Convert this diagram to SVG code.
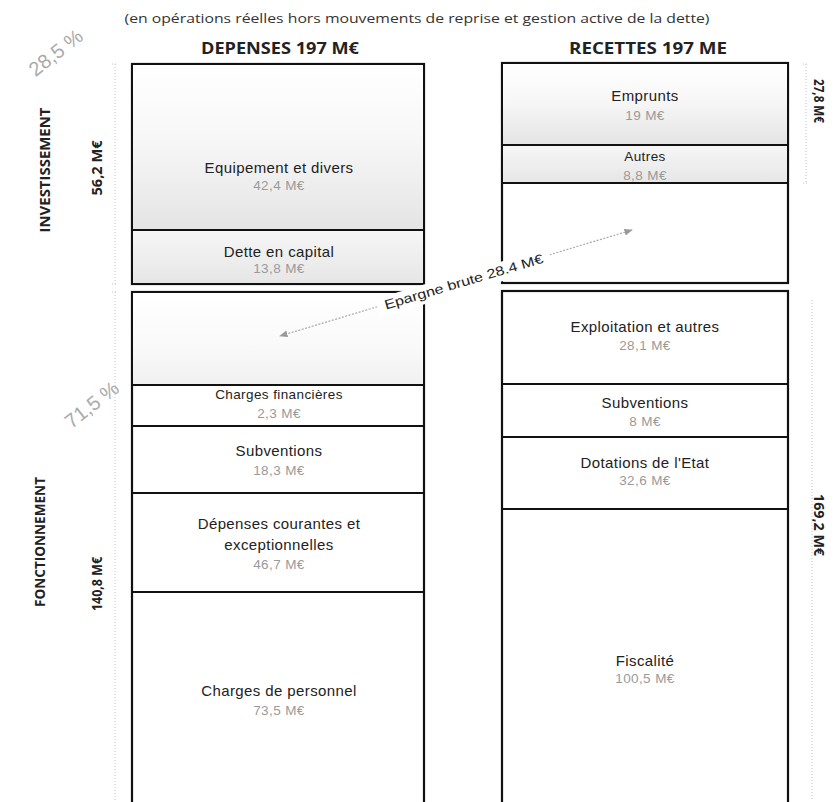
<svg xmlns="http://www.w3.org/2000/svg" width="834" height="802" viewBox="0 0 834 802">
<style>
.box{fill:#fff;stroke:#111;stroke-width:2.2}
.sep{stroke:#111;stroke-width:2.2}
.lbl{font-family:"Liberation Sans",Arial,sans-serif;font-size:15px;fill:#222;text-anchor:middle;letter-spacing:0.4px}
.sm{font-size:13.5px}
.val{font-family:"Liberation Sans",Arial,sans-serif;font-size:13.5px;fill:#9a9a9a;text-anchor:middle;letter-spacing:0.4px}
.hd{font-family:"Open Sans","Liberation Sans",sans-serif;font-weight:bold;font-size:16px;fill:#222;text-anchor:middle}
.side{font-family:"Open Sans","Liberation Sans",sans-serif;font-weight:bold;font-size:14px;fill:#222;text-anchor:middle}
.pct{font-family:"Liberation Sans",Arial,sans-serif;font-size:20px;fill:#aaa;text-anchor:middle}
.dot{stroke:#c4c4c4;stroke-width:1;stroke-dasharray:1 2;fill:none}
</style>
<defs>
<linearGradient id="g1" x1="0" y1="0" x2="0" y2="1">
<stop offset="0" stop-color="#fff"/><stop offset="0.45" stop-color="#f7f7f7"/><stop offset="1" stop-color="#e4e4e4"/>
</linearGradient>
<linearGradient id="g2" x1="0" y1="0" x2="0" y2="1">
<stop offset="0" stop-color="#f6f6f6"/><stop offset="1" stop-color="#e6e6e6"/>
</linearGradient>
<linearGradient id="g3" x1="0" y1="0" x2="0" y2="1">
<stop offset="0" stop-color="#fff"/><stop offset="0.6" stop-color="#f9f9f9"/><stop offset="1" stop-color="#f0f0f0"/>
</linearGradient>
<marker id="ah" viewBox="0 0 10 10" refX="9" refY="5" markerWidth="7" markerHeight="7" orient="auto-start-reverse">
<path d="M0,1 L10,5 L0,9 Z" fill="#999"/>
</marker>
</defs>
<rect width="834" height="802" fill="#fff"/>

<text x="417" y="23" font-family="Open Sans, Liberation Sans, sans-serif" font-size="13" fill="#333" text-anchor="middle" textLength="585" lengthAdjust="spacingAndGlyphs">(en opérations réelles hors mouvements de reprise et gestion active de la dette)</text>
<text class="hd" x="280" y="54" textLength="158" lengthAdjust="spacingAndGlyphs">DEPENSES  197 M€</text>
<text class="hd" x="648" y="54" textLength="158" lengthAdjust="spacingAndGlyphs">RECETTES  197 ME</text>

<text class="pct" transform="translate(60,58) rotate(-38)">28,5 %</text>
<text class="pct" transform="translate(96,410) rotate(-38)">71,5 %</text>

<text class="side" transform="translate(50,170) rotate(-90)" textLength="125" lengthAdjust="spacingAndGlyphs">INVESTISSEMENT</text>
<text class="side" transform="translate(102,168) rotate(-90)" textLength="55" lengthAdjust="spacingAndGlyphs">56,2 M€</text>
<text class="side" transform="translate(45,542) rotate(-90)" textLength="130" lengthAdjust="spacingAndGlyphs">FONCTIONNEMENT</text>
<text class="side" transform="translate(102,584) rotate(-90)" textLength="54" lengthAdjust="spacingAndGlyphs">140,8 M€</text>
<text class="side" transform="translate(814,101) rotate(90)" textLength="44" lengthAdjust="spacingAndGlyphs">27,8 M€</text>
<text class="side" transform="translate(814,525) rotate(90)" textLength="62" lengthAdjust="spacingAndGlyphs">169,2 M€</text>

<g id="brackets">
<path class="dot" d="M115,64 V284 M112,64 H118 M112,284 H118"/>
<path class="dot" d="M115,292 V800 M112,292 H118"/>
<path class="dot" d="M806,64 V183 M803,64 H809 M803,183 H809"/>
<path class="dot" d="M812,300 V800"/>
</g>

<g id="dep-invest">
<rect class="box" x="132" y="64" width="292" height="220"/>
</g>
<g id="equipement">
<rect x="133" y="65" width="290" height="165" fill="url(#g1)"/>
<text class="lbl" x="279" y="173">Equipement et divers</text>
<text class="val" x="279" y="190">42,4 M€</text>
</g>
<g id="dette">
<rect x="133" y="231" width="290" height="52" fill="url(#g2)"/>
<line class="sep" x1="132" y1="230" x2="424" y2="230"/>
<text class="lbl" x="279" y="257">Dette en capital</text>
<text class="val" x="279" y="273">13,8 M€</text>
</g>

<g id="dep-fonct">
<rect class="box" x="132" y="292" width="292" height="520"/>
<rect x="133" y="293" width="290" height="92" fill="url(#g3)"/>
</g>
<g id="charges-fin">
<line class="sep" x1="132" y1="385" x2="424" y2="385"/>
<text class="lbl sm" x="279" y="399">Charges financières</text>
<text class="val" x="279" y="418">2,3 M€</text>
</g>
<g id="subv-dep">
<line class="sep" x1="132" y1="426" x2="424" y2="426"/>
<text class="lbl" x="279" y="456">Subventions</text>
<text class="val" x="279" y="475">18,3 M€</text>
</g>
<g id="courantes">
<line class="sep" x1="132" y1="493" x2="424" y2="493"/>
<text class="lbl" x="279" y="529">Dépenses courantes et</text>
<text class="lbl" x="279" y="550">exceptionnelles</text>
<text class="val" x="279" y="569">46,7 M€</text>
</g>
<g id="personnel">
<line class="sep" x1="132" y1="592" x2="424" y2="592"/>
<text class="lbl" x="279" y="696">Charges de personnel</text>
<text class="val" x="279" y="715">73,5 M€</text>
</g>

<g id="rec-invest">
<rect class="box" x="502" y="63" width="286" height="220"/>
</g>
<g id="emprunts">
<rect x="503" y="64" width="284" height="81" fill="url(#g1)"/>
<text class="lbl" x="645" y="101">Emprunts</text>
<text class="val" x="645" y="120">19 M€</text>
</g>
<g id="autres">
<rect x="503" y="146" width="284" height="37" fill="url(#g2)"/>
<line class="sep" x1="502" y1="145" x2="788" y2="145"/>
<line class="sep" x1="502" y1="183" x2="788" y2="183"/>
<text class="lbl sm" x="645" y="161">Autres</text>
<text class="val" x="645" y="180">8,8 M€</text>
</g>

<g id="rec-fonct">
<rect class="box" x="502" y="291" width="286" height="520"/>
</g>
<g id="exploitation">
<text class="lbl" x="645" y="332">Exploitation et autres</text>
<text class="val" x="645" y="350">28,1 M€</text>
</g>
<g id="subv-rec">
<line class="sep" x1="502" y1="384" x2="788" y2="384"/>
<text class="lbl" x="645" y="408">Subventions</text>
<text class="val" x="645" y="426">8 M€</text>
</g>
<g id="dotations">
<line class="sep" x1="502" y1="437" x2="788" y2="437"/>
<text class="lbl" x="645" y="468">Dotations de l'Etat</text>
<text class="val" x="645" y="485">32,6 M€</text>
</g>
<g id="fiscalite">
<line class="sep" x1="502" y1="509" x2="788" y2="509"/>
<text class="lbl" x="645" y="666">Fiscalité</text>
<text class="val" x="645" y="683">100,5 M€</text>
</g>

<g id="connectors">
<line x1="632" y1="230" x2="280" y2="336" stroke="#aaa" stroke-width="1.2" stroke-dasharray="2 1.5" marker-start="url(#ah)" marker-end="url(#ah)"/>
</g>
<g id="epargne">
<rect x="-90" y="-13" width="180" height="19" fill="#fff" transform="translate(465,286) rotate(-16.5)"/>
<text x="0" y="0" font-family="Liberation Sans, Arial, sans-serif" font-size="13" fill="#222" text-anchor="middle" textLength="165" lengthAdjust="spacingAndGlyphs" transform="translate(465,286) rotate(-16.5)">Epargne brute 28.4  M€</text>
</g>
</svg>
